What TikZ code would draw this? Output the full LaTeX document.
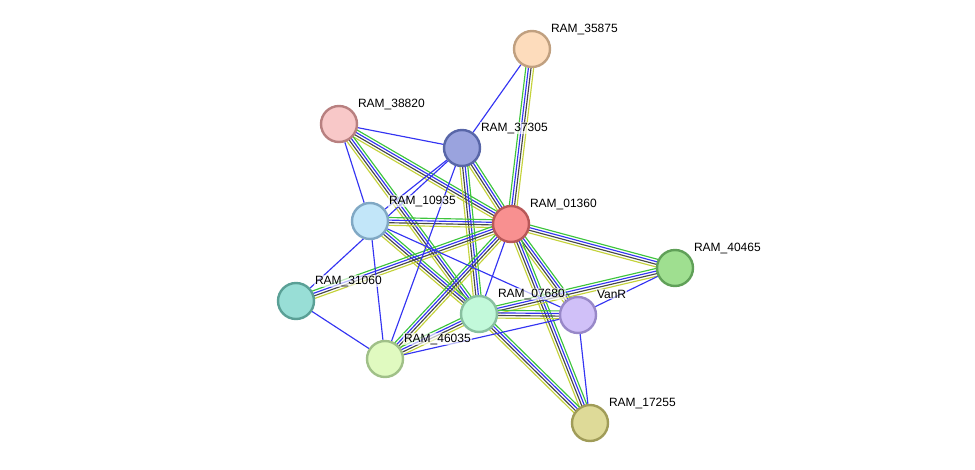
\documentclass[tikz,border=0pt]{standalone}
\usepackage{fontspec}
\setmainfont{Liberation Sans}
\usetikzlibrary{calc}
\pgfdeclarelayer{background}
\pgfsetlayers{background,main}
\definecolor{egreen}{HTML}{3DC43D}
\definecolor{eblue}{HTML}{3434F2}
\definecolor{eblack}{HTML}{484848}
\definecolor{eyellow}{HTML}{C4D23A}
\definecolor{fA}{RGB}{253,220,188}\definecolor{dA}{RGB}{192,160,128}
\definecolor{fB}{RGB}{248,200,200}\definecolor{dB}{RGB}{184,128,128}
\definecolor{fC}{RGB}{154,163,222}\definecolor{dC}{RGB}{88,102,168}
\definecolor{fD}{RGB}{194,230,249}\definecolor{dD}{RGB}{128,168,196}
\definecolor{fE}{RGB}{248,144,144}\definecolor{dE}{RGB}{184,88,88}
\definecolor{fF}{RGB}{159,223,144}\definecolor{dF}{RGB}{96,160,88}
\definecolor{fG}{RGB}{152,222,214}\definecolor{dG}{RGB}{90,160,150}
\definecolor{fH}{RGB}{194,249,218}\definecolor{dH}{RGB}{136,192,160}
\definecolor{fI}{RGB}{208,192,248}\definecolor{dI}{RGB}{152,136,200}
\definecolor{fJ}{RGB}{224,250,192}\definecolor{dJ}{RGB}{160,192,136}
\definecolor{fK}{RGB}{222,218,152}\definecolor{dK}{RGB}{160,156,88}
\tikzset{
  prot/.style={circle, minimum size=36pt, inner sep=0pt, line width=2.4pt},
  lbl/.style={anchor=base west, font=\fontsize{12pt}{14pt}\selectfont, inner sep=0.8pt, fill=white, fill opacity=0.65, text opacity=1},
  eline/.style={line width=1.15pt},
  single/.style={eline, eblue},
}
\newcommand\bundle[2]{%
  \foreach \o/\c in {3.9pt/egreen, 1.3pt/eblue, -1.3pt/eblack, -3.9pt/eyellow}{%
    \draw[eline, \c] ($(#1)!\o!90:(#2)$) -- ($(#2)!\o!-90:(#1)$);
  }%
}
\begin{document}
\begin{tikzpicture}[x=1pt, y=-1pt]
\useasboundingbox (0,0) rectangle (975,469);
\node[prot, fill=fA, draw=dA] (n35875) at (532,49) {};
\node[prot, fill=fB, draw=dB] (n38820) at (339,124) {};
\node[prot, fill=fC, draw=dC] (n37305) at (462,148) {};
\node[prot, fill=fD, draw=dD] (n10935) at (370,221) {};
\node[prot, fill=fE, draw=dE] (n01360) at (511,224) {};
\node[prot, fill=fF, draw=dF] (n40465) at (675,268) {};
\node[prot, fill=fG, draw=dG] (n31060) at (296,301) {};
\node[prot, fill=fH, draw=dH] (n07680) at (479,314) {};
\node[prot, fill=fI, draw=dI] (nVanR) at (578,315) {};
\node[prot, fill=fJ, draw=dJ] (n46035) at (385,359) {};
\node[prot, fill=fK, draw=dK] (n17255) at (590,423) {};
\begin{pgfonlayer}{background}
\bundle{n01360}{n35875}
\bundle{n38820}{n01360}
\bundle{n38820}{n07680}
\bundle{n37305}{n01360}
\bundle{n37305}{n07680}
\bundle{n10935}{n01360}
\bundle{n10935}{n07680}
\bundle{n31060}{n01360}
\bundle{n01360}{n40465}
\bundle{n01360}{nVanR}
\bundle{n01360}{n17255}
\bundle{n46035}{n01360}
\bundle{n07680}{n40465}
\bundle{n07680}{nVanR}
\bundle{n07680}{n17255}
\bundle{n46035}{n07680}
\draw[single] (n35875) -- (n37305);
\draw[single] (n38820) -- (n37305);
\draw[single] (n38820) -- (n10935);
\draw[single] (n37305) -- (n10935);
\draw[single] (n37305) -- (n31060);
\draw[single] (n37305) -- (n46035);
\draw[single] (n10935) -- (n46035);
\draw[single] (n10935) -- (nVanR);
\draw[single] (n31060) -- (n46035);
\draw[single] (n01360) -- (n07680);
\draw[single] (n46035) -- (nVanR);
\draw[single] (nVanR) -- (n40465);
\draw[single] (nVanR) -- (n17255);
\end{pgfonlayer}
\node[lbl] (l35875) at ($(n35875)+(18,-17)$) {RAM\_35875};
\node[lbl] (l38820) at ($(n38820)+(18,-17)$) {RAM\_38820};
\node[lbl] (l37305) at ($(n37305)+(18,-17)$) {RAM\_37305};
\node[lbl] (l10935) at ($(n10935)+(18,-17)$) {RAM\_10935};
\node[lbl] (l01360) at ($(n01360)+(18,-17)$) {RAM\_01360};
\node[lbl] (l40465) at ($(n40465)+(18,-17)$) {RAM\_40465};
\node[lbl] (l31060) at ($(n31060)+(18,-17)$) {RAM\_31060};
\node[lbl] (l07680) at ($(n07680)+(18,-17)$) {RAM\_07680};
\node[lbl] (lVanR) at ($(nVanR)+(18,-17)$) {VanR};
\node[lbl] (l46035) at ($(n46035)+(18,-17)$) {RAM\_46035};
\node[lbl] (l17255) at ($(n17255)+(18,-17)$) {RAM\_17255};
\end{tikzpicture}
\end{document}
